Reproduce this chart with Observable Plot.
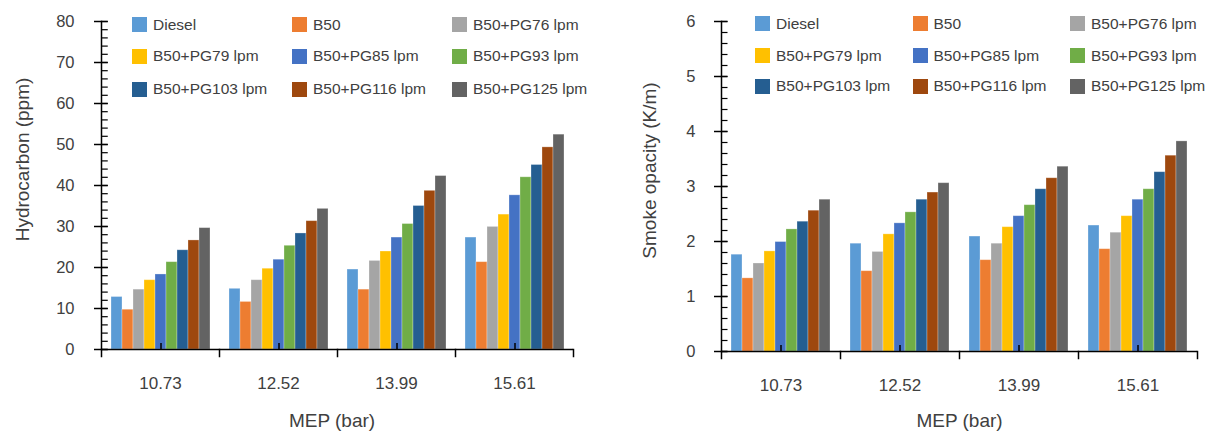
<!DOCTYPE html>
<html><head><meta charset="utf-8">
<script src="https://cdn.jsdelivr.net/npm/d3@7"></script>
<script src="https://cdn.jsdelivr.net/npm/@observablehq/plot@0.6"></script>
<style>
body{margin:0;background:#fff;}
#wrap{position:relative;width:1209px;height:431px;overflow:hidden;font-family:"Liberation Sans",Arial,sans-serif;color:#404040;}
#wrap svg{position:absolute;top:0;}
.lg{position:absolute;display:flex;align-items:center;height:20px;font-size:15.5px;white-space:nowrap;color:#404040;}
.sw{width:15px;height:15px;margin-right:6px;flex:none;}
</style></head><body><div id="wrap"></div>
<script>
const categories = ["10.73", "12.52", "13.99", "15.61"];
const series = ["Diesel", "B50", "B50+PG76 lpm", "B50+PG79 lpm", "B50+PG85 lpm", "B50+PG93 lpm", "B50+PG103 lpm", "B50+PG116 lpm", "B50+PG125 lpm"];
const colors = ["#5B9BD5", "#ED7D31", "#A5A5A5", "#FFC000", "#4472C4", "#70AD47", "#255E91", "#9E480E", "#636363"];

// Hydrocarbon (ppm), one array per MEP category, values in series order
const hc_10_73 = [12.8, 9.7, 14.6, 16.9, 18.3, 21.3, 24.2, 26.6, 29.6];
const hc_12_52 = [14.8, 11.6, 16.9, 19.7, 21.9, 25.3, 28.3, 31.3, 34.3];
const hc_13_99 = [19.5, 14.6, 21.6, 23.9, 27.3, 30.6, 35.0, 38.7, 42.3];
const hc_15_61 = [27.3, 21.3, 29.9, 32.9, 37.6, 42.0, 45.0, 49.3, 52.4];

// Smoke opacity (K/m)
const so_10_73 = [1.76, 1.33, 1.60, 1.82, 1.99, 2.22, 2.36, 2.56, 2.76];
const so_12_52 = [1.96, 1.46, 1.81, 2.13, 2.33, 2.53, 2.76, 2.89, 3.06];
const so_13_99 = [2.09, 1.66, 1.96, 2.26, 2.46, 2.66, 2.95, 3.15, 3.36];
const so_15_61 = [2.29, 1.86, 2.16, 2.46, 2.76, 2.95, 3.26, 3.56, 3.82];

const hcTicks = [0, 10, 20, 30, 40, 50, 60, 70, 80];
const hcMinor = d3.range(0, 80.001, 2);
const soTicks = [0, 1, 2, 3, 4, 5, 6];
const soMinor = d3.range(0, 6.001, 0.2);

const xTitle = "MEP (bar)";
const hcTitle = "Hydrocarbon (ppm)";
const soTitle = "Smoke opacity (K/m)";

function chart(o) {
  const data = [];
  categories.forEach((c, ci) => series.forEach((s, si) => data.push({cat: c, series: s, value: o.rows[ci][si]})));
  const H = 431;
  const facetW = (o.width - o.mL - o.mR) / categories.length;
  const frameH = H - o.mT - o.mB;
  const first = categories[0];
  return Plot.plot({
    width: o.width, height: H,
    marginLeft: o.mL, marginRight: o.mR, marginTop: o.mT, marginBottom: o.mB,
    style: {fontFamily: "Liberation Sans, Arial, sans-serif", color: "#404040", background: "transparent", overflow: "visible"},
    fx: {domain: categories, padding: 0, axis: null},
    x: {domain: series, paddingInner: 0, paddingOuter: 0.77, axis: null},
    y: {domain: [0, o.ymax], axis: null},
    color: {domain: series, range: colors},
    marks: [
      Plot.barY(data, {fx: "cat", x: "series", y: "value", fill: "series", stroke: "#fff", strokeOpacity: 0.35, strokeWidth: 0.8}),
      Plot.ruleY([0], {stroke: "#000", strokeWidth: 1.5}),
      Plot.frame({anchor: "left", facetAnchor: "left", stroke: "#000", strokeWidth: 1.5}),
      Plot.tickY(o.minors, {y: d => d, fx: () => first, insetRight: facetW - 7, stroke: "#000", strokeWidth: 1.2}),
      Plot.tickY(o.majors, {y: d => d, fx: () => first, insetLeft: -7, insetRight: facetW - 7, stroke: "#000", strokeWidth: 1.5}),
      Plot.text(o.majors, {y: d => d, fx: () => first, frameAnchor: "left", dx: o.labDx, textAnchor: "end", lineAnchor: "middle", text: d => String(d), fontSize: 16.5}),
      Plot.frame({anchor: "left", insetTop: frameH, insetBottom: -7, stroke: "#000", strokeWidth: 1.5}),
      Plot.frame({anchor: "right", facetAnchor: "right", insetTop: frameH, insetBottom: -7, stroke: "#000", strokeWidth: 1.5}),
      Plot.tickX([series[4]], {x: d => d, insetTop: frameH - 6, stroke: "#000", strokeWidth: 1.5}),
      Plot.text(categories, {fx: d => d, frameAnchor: "bottom", dy: 34, textAnchor: "middle", lineAnchor: "middle", text: d => d, fontSize: 17}),
      Plot.text([o.yTitle], {fx: () => first, frameAnchor: "left", dx: o.ytDx, dy: o.ytDy, rotate: -90, textAnchor: "middle", lineAnchor: "middle", text: d => d, fontSize: 19}),
      Plot.text([xTitle], {fx: () => categories[1], frameAnchor: "bottom-right", dx: o.xtDx, dy: o.xtDy, textAnchor: "middle", lineAnchor: "middle", text: d => d, fontSize: 19})
    ]
  });
}

const wrap = document.getElementById("wrap");
const left = chart({rows: [hc_10_73, hc_12_52, hc_13_99, hc_15_61], ymax: 80, majors: hcTicks, minors: hcMinor,
  width: 600, mL: 100, mR: 27, mT: 21, mB: 82, labDx: -27, yTitle: hcTitle, ytDx: -79, ytDy: -26, xtDx: -5.5, xtDy: 71});
left.style.left = "0px";
wrap.appendChild(left);
const right = chart({rows: [so_10_73, so_12_52, so_13_99, so_15_61], ymax: 6, majors: soTicks, minors: soMinor,
  width: 609, mL: 120, mR: 11, mT: 21, mB: 80, labDx: -26, yTitle: soTitle, ytDx: -72, ytDy: -16, xtDx: 0, xtDy: 69});
right.style.left = "600px";
wrap.appendChild(right);

function legend(cols, rows) {
  series.forEach((s, i) => {
    const d = document.createElement("div");
    d.className = "lg";
    d.style.left = cols[i % 3] + "px";
    d.style.top = (rows[Math.floor(i / 3)] - 10) + "px";
    const sw = document.createElement("span");
    sw.className = "sw";
    sw.style.background = colors[i];
    d.appendChild(sw);
    d.appendChild(document.createTextNode(s));
    wrap.appendChild(d);
  });
}
legend([132, 292, 452], [24.5, 56, 89]);
legend([755, 912.5, 1070], [23.5, 55.5, 86]);
</script></body></html>
